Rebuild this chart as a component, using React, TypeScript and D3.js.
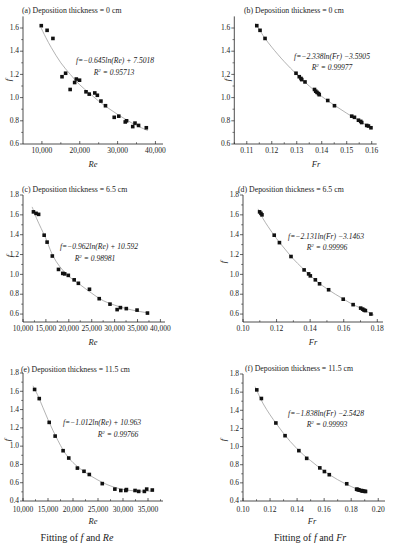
import React from 'react';
import * as d3 from 'd3';

const FONT = '"Liberation Serif", "Times New Roman", serif';

// (a) f vs Re, deposition 0 cm
const reA = [9830, 11370, 12910, 15310, 16260, 17460, 18650, 19090, 19940, 21650, 22500, 23970, 24650, 25600, 26800, 29110, 30310, 32020, 32370, 34000, 34600, 35540, 37590];
const fA = [1.62, 1.58, 1.51, 1.18, 1.21, 1.07, 1.13, 1.16, 1.15, 1.05, 1.03, 1.04, 1.02, 0.97, 0.93, 0.83, 0.84, 0.79, 0.8, 0.75, 0.78, 0.76, 0.74];
const fitReA = [9800, 11000, 12500, 15000, 17500, 20000, 22500, 25000, 27500, 30000, 32500, 35000, 38000];
const fitFA = [1.6, 1.52, 1.43, 1.3, 1.2, 1.11, 1.04, 0.97, 0.91, 0.855, 0.805, 0.76, 0.715];

// (b) f vs Fr, deposition 0 cm
const frB = [0.114, 0.1153, 0.1173, 0.1297, 0.131, 0.1317, 0.132, 0.1333, 0.1371, 0.1376, 0.1381, 0.1387, 0.139, 0.1424, 0.1451, 0.152, 0.1531, 0.1547, 0.1556, 0.156, 0.158, 0.1587, 0.1597];
const fB = [1.62, 1.58, 1.51, 1.21, 1.18, 1.165, 1.155, 1.135, 1.07, 1.055, 1.045, 1.035, 1.025, 0.975, 0.93, 0.84, 0.83, 0.805, 0.795, 0.785, 0.76, 0.755, 0.74];
const fitFrB = [0.1135, 0.117, 0.12, 0.125, 0.13, 0.135, 0.14, 0.145, 0.15, 0.155, 0.16];
const fitFB = [1.64, 1.52, 1.435, 1.31, 1.2, 1.1, 1.01, 0.935, 0.865, 0.8, 0.735];

// (c) f vs Re, deposition 6.5 cm
const reC = [12280, 12850, 13410, 14620, 15260, 16400, 17750, 18680, 19100, 19890, 21170, 22090, 24510, 26640, 28990, 30550, 31270, 32550, 34900, 37170];
const fC = [1.63, 1.615, 1.605, 1.395, 1.325, 1.185, 1.05, 1.01, 1.005, 0.99, 0.945, 0.91, 0.85, 0.755, 0.7, 0.645, 0.665, 0.655, 0.64, 0.61];
const fitReC = [12000, 13000, 14000, 15000, 16500, 18000, 20000, 22500, 25000, 27500, 30000, 32500, 35000, 37500];
const fitFC = [1.68, 1.56, 1.46, 1.36, 1.19, 1.08, 0.98, 0.895, 0.81, 0.735, 0.69, 0.655, 0.63, 0.61];

// (d) f vs Fr, deposition 6.5 cm
const frD = [0.1099, 0.1107, 0.1113, 0.1186, 0.1217, 0.1286, 0.1364, 0.1391, 0.1401, 0.1431, 0.1456, 0.151, 0.1597, 0.1656, 0.1701, 0.1713, 0.1721, 0.1729, 0.1762];
const fD = [1.63, 1.615, 1.6, 1.395, 1.32, 1.18, 1.045, 1.005, 0.985, 0.945, 0.905, 0.845, 0.75, 0.695, 0.66, 0.65, 0.64, 0.635, 0.6];
const fitFrD = [0.109, 0.112, 0.115, 0.12, 0.125, 0.13, 0.135, 0.14, 0.145, 0.15, 0.155, 0.16, 0.165, 0.17, 0.175, 0.178];
const fitFD = [1.66, 1.56, 1.48, 1.36, 1.255, 1.155, 1.07, 0.99, 0.915, 0.855, 0.8, 0.75, 0.7, 0.66, 0.615, 0.59];

// (e) f vs Re, deposition 11.5 cm
const reE = [12320, 13250, 15240, 16430, 18020, 19150, 20880, 22200, 23260, 25850, 28370, 29560, 30560, 30690, 32410, 33140, 34270, 34740, 35860];
const fE = [1.62, 1.52, 1.26, 1.11, 0.95, 0.87, 0.76, 0.725, 0.69, 0.59, 0.53, 0.515, 0.515, 0.525, 0.515, 0.505, 0.505, 0.53, 0.52];
const fitReE = [12000, 13000, 14000, 15000, 16000, 17000, 18000, 19000, 20000, 22000, 24000, 26000, 28000, 30000, 32000, 34000, 36000];
const fitFE = [1.66, 1.55, 1.42, 1.29, 1.17, 1.06, 0.96, 0.88, 0.82, 0.73, 0.66, 0.6, 0.555, 0.527, 0.512, 0.507, 0.51];

// (f) f vs Fr, deposition 11.5 cm
const frF = [0.1102, 0.1136, 0.1243, 0.1311, 0.1413, 0.1471, 0.1568, 0.1602, 0.1638, 0.1767, 0.184, 0.1845, 0.1852, 0.186, 0.1875, 0.188, 0.1887, 0.19, 0.1906];
const fF = [1.625, 1.53, 1.26, 1.12, 0.955, 0.87, 0.765, 0.725, 0.69, 0.59, 0.53, 0.528, 0.524, 0.52, 0.515, 0.513, 0.51, 0.507, 0.505];
const fitFrF = [0.109, 0.112, 0.115, 0.12, 0.125, 0.13, 0.135, 0.14, 0.145, 0.15, 0.155, 0.16, 0.165, 0.17, 0.175, 0.18, 0.185, 0.191];
const fitFF = [1.66, 1.56, 1.47, 1.35, 1.245, 1.145, 1.055, 0.975, 0.905, 0.845, 0.785, 0.73, 0.68, 0.635, 0.595, 0.56, 0.528, 0.5];

// tick values
const reTicksA = [10000, 20000, 30000, 40000];
const frTicksB = [0.11, 0.12, 0.13, 0.14, 0.15, 0.16];
const reTicksC = [10000, 15000, 20000, 25000, 30000, 35000, 40000];
const frTicksD = [0.1, 0.12, 0.14, 0.16, 0.18];
const reTicksE = [10000, 15000, 20000, 25000, 30000, 35000];
const frTicksF = [0.1, 0.12, 0.14, 0.16, 0.18, 0.2];
const fTicksTop = [0.6, 0.8, 1.0, 1.2, 1.4, 1.6];
const fTicksMid = [0.6, 0.8, 1.0, 1.2, 1.4, 1.6, 1.8];
const fTicksLow = [0.4, 0.6, 0.8, 1.0, 1.2, 1.4, 1.6, 1.8];

const zip = (a: number[], b: number[]) => a.map((v, i) => [v, b[i]] as [number, number]);

const panels = [
  {
    title: '(a) Deposition thickness = 0 cm', tx: 22, ty: 13,
    left: 23, right: 163, top: 16.4, bottom: 144, tickDy: 8.5,
    xDomain: [5000, 42000], yDomain: [0.6, 1.7],
    xTicks: reTicksA, yTicks: fTicksTop, xFmt: d3.format(','), xLabel: 'Re', xl: 93,
    fx: 11, fy: 80,
    pts: zip(reA, fA), fit: zip(fitReA, fitFA),
    eq: 'f=−0.645ln(Re) + 7.5018', ex: 115, ey: 63, r2: '0.95713', rx: 114, ry: 75,
  },
  {
    title: '(b) Deposition thickness = 0 cm', tx: 244, ty: 13,
    left: 234.3, right: 376.7, top: 16.4, bottom: 144, tickDy: 8.5,
    xDomain: [0.105, 0.162], yDomain: [0.6, 1.7],
    xTicks: frTicksB, yTicks: fTicksTop, xFmt: d3.format('.2f'), xLabel: 'Fr', xl: 316,
    fx: 230, fy: 80,
    pts: zip(frB, fB), fit: zip(fitFrB, fitFB),
    eq: 'f=−2.338ln(Fr) −3.5905', ex: 332, ey: 59, r2: '0.99977', rx: 332, ry: 70,
  },
  {
    title: '(c) Deposition thickness = 6.5 cm', tx: 22, ty: 192,
    left: 23, right: 165, top: 195, bottom: 322, tickDy: 8.5,
    xDomain: [10000, 41000], yDomain: [0.52, 1.8],
    xTicks: reTicksC, yTicks: fTicksMid, xFmt: d3.format(','), xLabel: 'Re', xl: 93,
    fx: 12, fy: 256,
    pts: zip(reC, fC), fit: zip(fitReC, fitFC),
    eq: 'f=−0.962ln(Re) + 10.592', ex: 99, ey: 249, r2: '0.98981', rx: 95, ry: 261,
  },
  {
    title: '(d) Deposition thickness = 6.5 cm', tx: 238, ty: 192,
    left: 243, right: 383, top: 195, bottom: 322, tickDy: 8.5,
    xDomain: [0.1, 0.1834], yDomain: [0.52, 1.8],
    xTicks: frTicksD, yTicks: fTicksMid, xFmt: d3.format('.2f'), xLabel: 'Fr', xl: 313,
    fx: 226, fy: 262,
    pts: zip(frD, fD), fit: zip(fitFrD, fitFD),
    eq: 'f=−2.131ln(Fr) −3.1463', ex: 326, ey: 239, r2: '0.99996', rx: 327, ry: 250,
  },
  {
    title: '(e) Deposition thickness = 11.5 cm', tx: 21, ty: 372,
    left: 23, right: 163, top: 373, bottom: 501, tickDy: 10.5,
    xDomain: [10000, 38000], yDomain: [0.4, 1.8],
    xTicks: reTicksE, yTicks: fTicksLow, xFmt: d3.format(','), xLabel: 'Re', xl: 93,
    fx: 10, fy: 440,
    pts: zip(reE, fE), fit: zip(fitReE, fitFE),
    eq: 'f=−1.012ln(Re) + 10.963', ex: 102, ey: 425, r2: '0.99766', rx: 118, ry: 437,
  },
  {
    title: '(f) Deposition thickness = 11.5 cm', tx: 245, ty: 371,
    left: 243, right: 385, top: 374, bottom: 501, tickDy: 10.5,
    xDomain: [0.1, 0.205], yDomain: [0.4, 1.8],
    xTicks: frTicksF, yTicks: fTicksLow, xFmt: d3.format('.2f'), xLabel: 'Fr', xl: 312,
    fx: 226, fy: 440,
    pts: zip(frF, fF), fit: zip(fitFrF, fitFF),
    eq: 'f=−1.838ln(Fr) −2.5428', ex: 326, ey: 416, r2: '0.99993', rx: 327, ry: 427,
  },
];

const Panel = ({ p }: { p: any }) => {
  const x = d3.scaleLinear().domain(p.xDomain).range([p.left, p.right]);
  const y = d3.scaleLinear().domain(p.yDomain).range([p.bottom, p.top]);
  const line = d3.line<[number, number]>()
    .x(d => x(d[0]))
    .y(d => y(d[1]))
    .curve(d3.curveCatmullRom.alpha(0.5));

  // minor ticks halfway between majors, inside the domain
  const xStep = p.xTicks[1] - p.xTicks[0];
  const xMinor = d3.range(p.xTicks[0] - xStep / 2, p.xDomain[1], xStep)
    .filter((v: number) => v > p.xDomain[0] && v < p.xDomain[1]);
  const yMinor = d3.range(p.yTicks[0] - 0.1, p.yDomain[1], 0.2)
    .filter((v: number) => v > p.yDomain[0] && v < p.yDomain[1]);

  const c = '#222';
  return (
    <g fontFamily={FONT} fill={c}>
      <text x={p.tx} y={p.ty} fontSize={7.8}>{p.title}</text>
      {/* fitted curve */}
      <path d={line(p.fit) || ''} fill="none" stroke="#a0a0a0" strokeWidth={0.8} />
      {/* axes */}
      <line x1={p.left} x2={p.left} y1={p.top} y2={p.bottom} stroke={c} strokeWidth={0.8} />
      <line x1={p.left} x2={p.right} y1={p.bottom} y2={p.bottom} stroke={c} strokeWidth={0.8} />
      {p.yTicks.map((t: number) => (
        <g key={'y' + t}>
          <line x1={p.left - 3} x2={p.left} y1={y(t)} y2={y(t)} stroke={c} strokeWidth={0.7} />
          <text x={p.left - 4} y={y(t)} dy="0.3em" textAnchor="end" fontSize={7.5}>{t.toFixed(1)}</text>
        </g>
      ))}
      {yMinor.map((t: number) => (
        <line key={'ym' + t} x1={p.left - 1.8} x2={p.left} y1={y(t)} y2={y(t)} stroke={c} strokeWidth={0.6} />
      ))}
      {p.xTicks.map((t: number) => (
        <g key={'x' + t}>
          <line x1={x(t)} x2={x(t)} y1={p.bottom} y2={p.bottom - 3} stroke={c} strokeWidth={0.7} />
          <text x={x(t)} y={p.bottom + p.tickDy} textAnchor="middle" fontSize={7.5}>{p.xFmt(t)}</text>
        </g>
      ))}
      {xMinor.map((t: number) => (
        <line key={'xm' + t} x1={x(t)} x2={x(t)} y1={p.bottom} y2={p.bottom - 1.8} stroke={c} strokeWidth={0.6} />
      ))}
      {/* axis labels */}
      <text x={p.xl} y={p.bottom + 22.5} textAnchor="middle" fontSize={8.5} fontStyle="italic">{p.xLabel}</text>
      <text transform={`translate(${p.fx},${p.fy}) rotate(-90)`} textAnchor="middle" fontSize={9} fontStyle="italic">f</text>
      {/* data points */}
      {p.pts.map((d: [number, number], i: number) => (
        <rect key={i} x={x(d[0]) - 1.8} y={y(d[1]) - 1.8} width={3.6} height={3.6} fill="#111" />
      ))}
      {/* fit equation */}
      <text x={p.ex} y={p.ey} textAnchor="middle" fontSize={7.6} fontStyle="italic">{p.eq}</text>
      <text x={p.rx} y={p.ry} textAnchor="middle" fontSize={7.6} fontStyle="italic">
        R<tspan dy={-3} fontSize={5}>2</tspan><tspan dy={3}> = {p.r2}</tspan>
      </text>
    </g>
  );
};

export default function App() {
  return (
    <svg width={394} height={550} style={{ position: 'absolute', left: 0, top: 0, background: '#fff' }}>
      <rect width={394} height={550} fill="#fff" />
      {panels.map((p, i) => <Panel key={i} p={p} />)}
      <text x={77} y={541} textAnchor="middle" fontSize={10} fontFamily={FONT} fill="#222">
        Fitting of <tspan fontStyle="italic">f</tspan> and <tspan fontStyle="italic">Re</tspan>
      </text>
      <text x={310} y={541} textAnchor="middle" fontSize={10} fontFamily={FONT} fill="#222">
        Fitting of <tspan fontStyle="italic">f</tspan> and <tspan fontStyle="italic">Fr</tspan>
      </text>
    </svg>
  );
}
